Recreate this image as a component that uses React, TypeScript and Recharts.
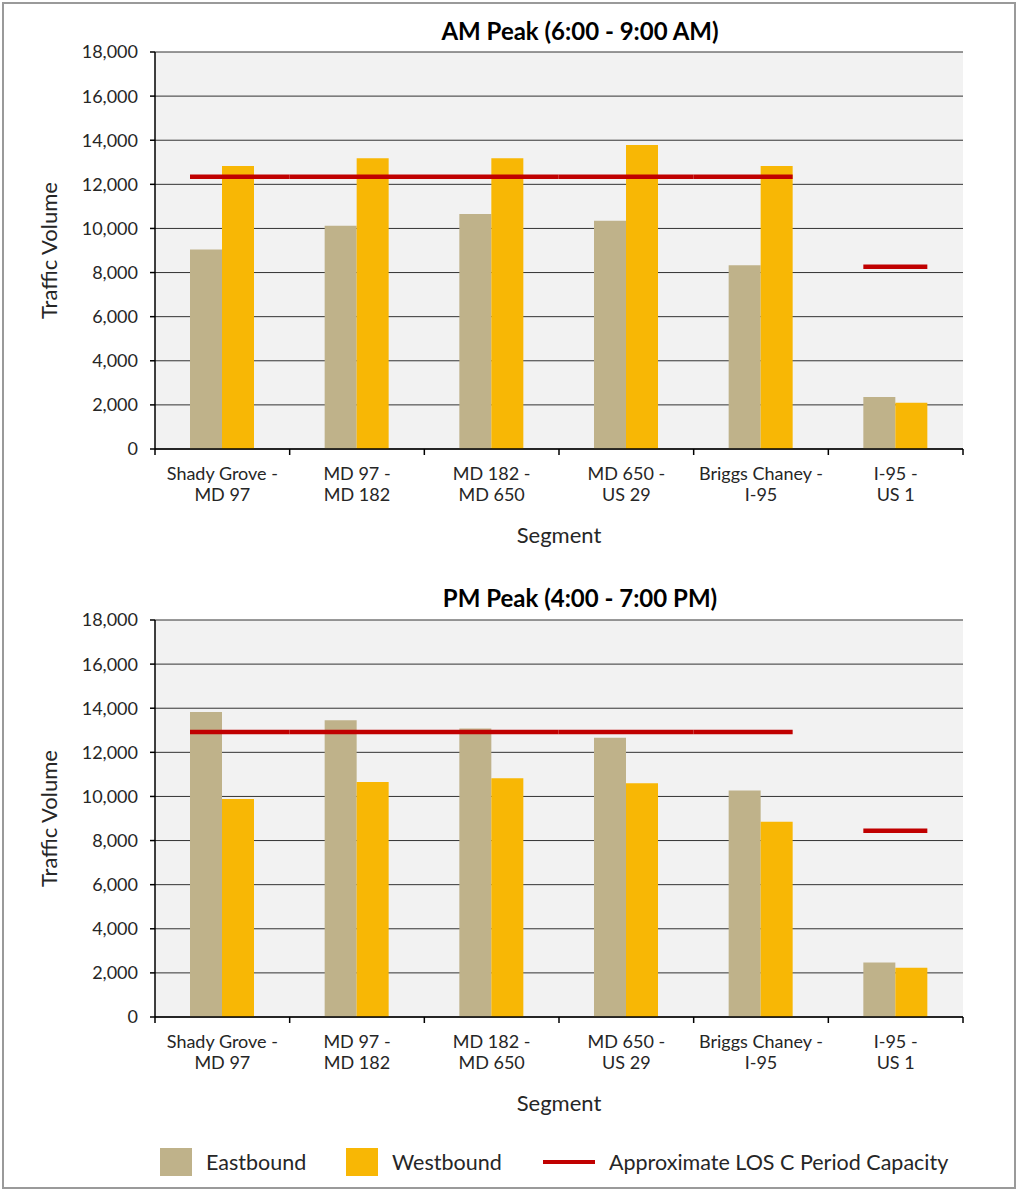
import React from 'react';
import { BarChart, Bar, XAxis, YAxis, CartesianGrid } from 'recharts';

const segmentLine1 = ['Shady Grove -', 'MD 97 -', 'MD 182 -', 'MD 650 -', 'Briggs Chaney -', 'I-95 -'];
const segmentLine2 = ['MD 97', 'MD 182', 'MD 650', 'US 29', 'I-95', 'US 1'];

const amEastbound = [9050, 10120, 10650, 10350, 8330, 2360];
const amWestbound = [12830, 13180, 13180, 13780, 12830, 2100];
const amCapacity = [12340, 12340, 12340, 12340, 12340, 8260];

const pmEastbound = [13830, 13450, 13080, 12660, 10270, 2470];
const pmWestbound = [9880, 10650, 10820, 10600, 8850, 2230];
const pmCapacity = [12920, 12920, 12920, 12920, 12920, 8440];

const yTicks = [0, 2000, 4000, 6000, 8000, 10000, 12000, 14000, 16000, 18000];

const FONT = 'Lato, "Open Sans", sans-serif';
const TEXT = '#262626';
const EB_COLOR = '#BFB28A';
const WB_COLOR = '#F8B705';
const CAP_COLOR = '#C00000';

const CHART_W = 1018;
const CHART_H = 570;
const MARGIN = { top: 52, right: 55, bottom: 0, left: 0 };
const Y_W = 155;
const X_H = 121;
const PLOT_W = CHART_W - MARGIN.left - MARGIN.right - Y_W;
const BAND = PLOT_W / segmentLine1.length;

function buildData(eb: number[], wb: number[], cap: number[]) {
  return segmentLine1.map((s, i) => ({
    name: s + ' ' + segmentLine2[i],
    eastbound: eb[i],
    westbound: wb[i],
    capacity: cap[i],
  }));
}

function SegmentTick(props: any) {
  const { x, y, payload } = props;
  const i = payload.index;
  const half = BAND / 2;
  return (
    <g>
      <line x1={x - half} x2={x - half} y1={y} y2={y + 6} stroke="#000" strokeWidth={1.5} />
      {i === segmentLine1.length - 1 && (
        <line x1={x + half} x2={x + half} y1={y} y2={y + 6} stroke="#000" strokeWidth={1.5} />
      )}
      <text x={x} y={y} textAnchor="middle" fontFamily={FONT} fontSize={18} fill={TEXT}>
        <tspan x={x} dy={31}>{segmentLine1[i]}</tspan>
        <tspan x={x} dy={21}>{segmentLine2[i]}</tspan>
      </text>
    </g>
  );
}

function makeCapShape(cap: number[]) {
  return (props: any) => {
    const { x, y, width, index } = props;
    const ext = (BAND - width) / 2;
    const extL = index > 0 && cap[index - 1] === cap[index] ? ext : 0;
    const extR = index < cap.length - 1 && cap[index + 1] === cap[index] ? ext : 0;
    return (
      <line x1={x - extL} x2={x + width + extR} y1={y} y2={y} stroke={CAP_COLOR} strokeWidth={4.5} />
    );
  };
}

function PeakChart({ eb, wb, cap }: { eb: number[]; wb: number[]; cap: number[] }) {
  const data = buildData(eb, wb, cap);
  return (
    <BarChart width={CHART_W} height={CHART_H} data={data} margin={MARGIN} barGap={0}>
      <CartesianGrid vertical={false} fill="#F2F2F2" stroke="#333" strokeWidth={1} />
      <XAxis
        dataKey="name"
        height={X_H}
        interval={0}
        tickLine={false}
        tickSize={0}
        tickMargin={0}
        axisLine={{ stroke: '#000', strokeWidth: 1.5 }}
        tick={<SegmentTick />}
        label={{
          content: (p: any) => {
            const vb = p.viewBox;
            return (
              <text x={vb.x + vb.width / 2} y={vb.y + 94} textAnchor="middle" fontFamily={FONT} fontSize={22} fill={TEXT}>
                Segment
              </text>
            );
          },
        }}
      />
      <XAxis xAxisId="cap" dataKey="name" hide />
      <YAxis
        width={Y_W}
        domain={[0, 18000]}
        ticks={yTicks}
        interval={0}
        tickSize={5}
        tickMargin={12}
        tickLine={{ stroke: '#000', strokeWidth: 1.5 }}
        axisLine={{ stroke: '#000', strokeWidth: 1.5 }}
        tick={{ fontFamily: FONT, fontSize: 18, fill: TEXT }}
        tickFormatter={(v: number) => v.toLocaleString('en-US')}
        label={{
          content: (p: any) => {
            const vb = p.viewBox;
            const cx = vb.x + 48;
            const cy = vb.y + vb.height / 2;
            return (
              <text
                x={cx}
                y={cy}
                transform={`rotate(-90, ${cx}, ${cy})`}
                textAnchor="middle"
                dominantBaseline="central"
                fontFamily={FONT}
                fontSize={22}
                fill={TEXT}
              >
                Traffic Volume
              </text>
            );
          },
        }}
      />
      <YAxis
        yAxisId="right"
        orientation="right"
        width={0}
        domain={[0, 18000]}
        tick={false}
        tickLine={false}
        axisLine={{ stroke: '#000', strokeWidth: 1.5 }}
      />
      <Bar dataKey="eastbound" fill={EB_COLOR} barSize={32} isAnimationActive={false} />
      <Bar dataKey="westbound" fill={WB_COLOR} barSize={32} isAnimationActive={false} />
      <Bar
        dataKey="capacity"
        xAxisId="cap"
        barSize={64}
        isAnimationActive={false}
        shape={makeCapShape(cap)}
      />
    </BarChart>
  );
}

function Title({ text, top }: { text: string; top: number }) {
  return (
    <div
      style={{
        position: 'absolute',
        left: 380,
        width: 400,
        top,
        textAlign: 'center',
        fontFamily: FONT,
        fontWeight: 700,
        fontSize: 24,
        color: '#000',
        lineHeight: '30px',
      }}
    >
      {text}
    </div>
  );
}

function LegendItem({ left, kind, color, label }: { left: number; kind: 'box' | 'line'; color: string; label: string }) {
  return (
    <div style={{ position: 'absolute', left, top: 1147, height: 30, display: 'flex', alignItems: 'center' }}>
      {kind === 'box' ? (
        <div style={{ width: 32, height: 28, background: color }} />
      ) : (
        <div style={{ width: 52, height: 4, background: color }} />
      )}
      <span style={{ marginLeft: 14, fontFamily: FONT, fontSize: 21.5, color: TEXT, whiteSpace: 'nowrap' }}>{label}</span>
    </div>
  );
}

export default function App() {
  return (
    <div style={{ position: 'absolute', left: 0, top: 0, width: 1018, height: 1191, background: '#fff', overflow: 'hidden' }}>
      <div
        style={{
          position: 'absolute',
          left: 2,
          top: 2,
          width: 1010,
          height: 1183,
          border: '2px solid #9a9a9a',
        }}
      />
      <Title text="AM Peak (6:00 - 9:00 AM)" top={16} />
      <div style={{ position: 'absolute', left: 0, top: 0 }}>
        <PeakChart eb={amEastbound} wb={amWestbound} cap={amCapacity} />
      </div>
      <Title text="PM Peak (4:00 - 7:00 PM)" top={583} />
      <div style={{ position: 'absolute', left: 0, top: 568 }}>
        <PeakChart eb={pmEastbound} wb={pmWestbound} cap={pmCapacity} />
      </div>
      <LegendItem left={160} kind="box" color={EB_COLOR} label="Eastbound" />
      <LegendItem left={346} kind="box" color={WB_COLOR} label="Westbound" />
      <LegendItem left={543} kind="line" color={CAP_COLOR} label="Approximate LOS C Period Capacity" />
    </div>
  );
}
